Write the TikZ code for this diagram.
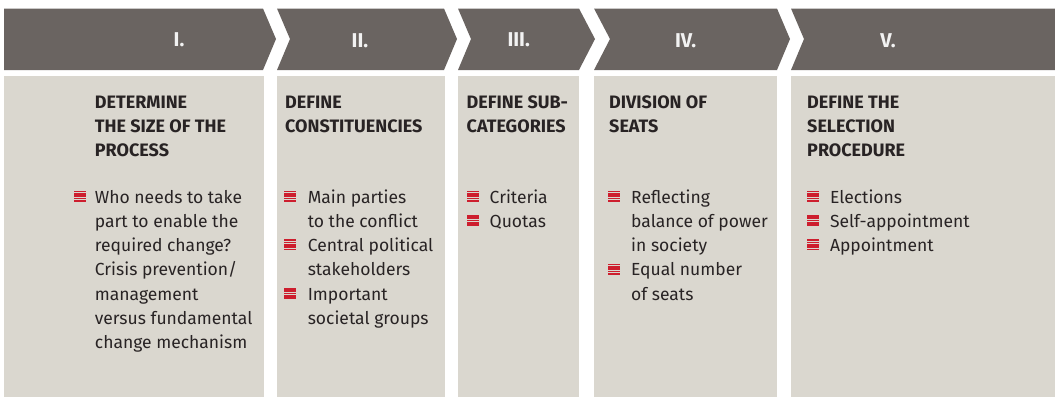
\documentclass[tikz,border=0pt]{standalone}
\usepackage{fontspec}
\setmainfont{Fira Sans}
\definecolor{bandgray}{RGB}{106,100,97}
\definecolor{panelgray}{RGB}{218,215,207}
\definecolor{markred}{RGB}{205,30,46}
\definecolor{inkdark}{RGB}{40,35,36}
\definecolor{numwhite}{RGB}{242,242,242}
\tikzset{stepnum/.style={anchor=base, inner sep=0pt, text=numwhite, font=\bfseries\fontsize{20}{20}\selectfont}}
\tikzset{phasetitle/.style={anchor=base west, align=left, inner sep=0pt, text=inkdark, font=\bfseries\fontsize{18}{24.3}\selectfont}}
\tikzset{phaseitem/.style={anchor=base west, align=left, inner sep=0pt, text=inkdark, font=\fontsize{17.5}{24.3}\selectfont}}
\tikzset{listmark/.pic={\foreach \k in {0,...,4} \fill[markred] (0,-1.3-\k*2.35) rectangle ++(12,-1.6);}}
\begin{document}
\begin{tikzpicture}[x=1pt, y=-1pt]
\useasboundingbox (0,0) rectangle (1055,397);
\fill[white] (0,0) rectangle (1055,397);

\fill[bandgray] (4,8.5) -- (263,8.5) -- (276,39) -- (263,70) -- (4,70) -- cycle;
\fill[bandgray] (277,8.5) -- (444,8.5) -- (457,39) -- (444,70) -- (277,70) -- (290,39) -- cycle;
\fill[bandgray] (458,8.5) -- (579,8.5) -- (595,39) -- (579,70) -- (458,70) -- (471,39) -- cycle;
\fill[bandgray] (594,8.5) -- (777,8.5) -- (790,39) -- (777,70) -- (594,70) -- (610,39) -- cycle;
\fill[bandgray] (791,8.5) -- (1055,8.5) -- (1055,70) -- (791,70) -- (804,39) -- cycle;

\fill[panelgray] (4,76) rectangle (263.5,397);
\fill[panelgray] (277,76) rectangle (445,397);
\fill[panelgray] (457.7,76) rectangle (579,397);
\fill[panelgray] (594.3,76) rectangle (777,397);
\fill[panelgray] (791,76) rectangle (1055,397);

\node[stepnum] (n1) at (179,46) {I.};
\node[stepnum] (n2) at (360,47.5) {II.};
\node[stepnum] (n3) at (518.7,46) {III.};
\node[stepnum] (n4) at (685.6,47) {IV.};
\node[stepnum] (n5) at (888,47) {V.};

\node[phasetitle] (t1) at (94.7,156.8) {DETERMINE\\THE SIZE OF THE\\PROCESS};
\node[phasetitle] (t2) at (285,132.5) {DEFINE\\CONSTITUENCIES};
\node[phasetitle] (t3) at (466.5,132.5) {DEFINE SUB-\\CATEGORIES};
\node[phasetitle] (t4) at (609,132.5) {DIVISION OF\\SEATS};
\node[phasetitle] (t5) at (807,156.8) {DEFINE THE\\SELECTION\\PROCEDURE};

\pic at (74.4,203) {listmark};
\node[phaseitem] (a1) at (94.7,348.8) {Who needs to take\\part to enable the\\required change?\\Crisis prevention/\\management\\versus fundamental\\change mechanism};

\pic at (284,203) {listmark};
\pic at (284,251.6) {listmark};
\pic at (284,300.2) {listmark};
\node[phaseitem] (b1) at (307.6,227.3) {Main parties\\to the conflict};
\node[phaseitem] (b2) at (307.6,275.9) {Central political\\stakeholders};
\node[phaseitem] (b3) at (307.6,324.5) {Important\\societal groups};

\pic at (466.5,203) {listmark};
\pic at (466.5,227.3) {listmark};
\node[phaseitem] (c1) at (489.5,203) {Criteria};
\node[phaseitem] (c2) at (489.5,227.3) {Quotas};

\pic at (608,203) {listmark};
\pic at (608,275.9) {listmark};
\node[phaseitem] (d1) at (631,251.6) {Reflecting\\balance of power\\in society};
\node[phaseitem] (d2) at (631,300.2) {Equal number\\of seats};

\pic at (806.6,203) {listmark};
\pic at (806.6,227.3) {listmark};
\pic at (806.6,251.6) {listmark};
\node[phaseitem] (e1) at (829.8,203) {Elections};
\node[phaseitem] (e2) at (829.8,227.3) {Self-appointment};
\node[phaseitem] (e3) at (829.8,251.6) {Appointment};

\end{tikzpicture}
\end{document}
